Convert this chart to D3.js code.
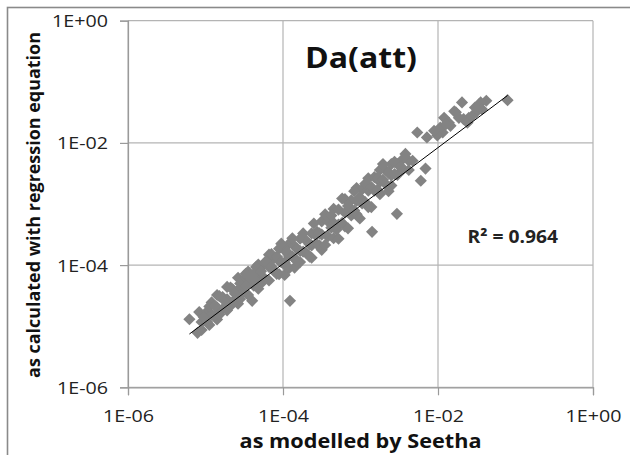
<!DOCTYPE html>
<html>
<head>
<meta charset="utf-8">
<script src="https://cdn.jsdelivr.net/npm/d3@7"></script>
<style>
  html, body { margin: 0; padding: 0; background: #fff; }
  svg { display: block; font-family: "Open Sans", "Liberation Sans", sans-serif; }
</style>
</head>
<body>
<svg id="chart" width="630" height="455"></svg>
<script>
// Da(att): values modelled by Seetha vs. values from the regression equation
const modelled = [
  6.2e-6, 8.3e-6, 7.9e-6, 4.0e-5, 1.23e-4,
  8.9e-6, 8.9e-6, 1.05e-5, 1.05e-5, 1.2e-5, 1.2e-5, 1.41e-5, 1.41e-5, 1.41e-5,
  1.66e-5, 1.66e-5, 1.9e-5, 1.9e-5, 1.9e-5, 2.24e-5, 2.24e-5, 2.63e-5, 2.63e-5, 2.63e-5,
  3.0e-5, 3.0e-5, 3.55e-5, 3.55e-5, 3.55e-5, 4.2e-5, 4.2e-5, 4.8e-5, 4.8e-5, 4.8e-5,
  5.6e-5, 5.6e-5, 6.6e-5, 6.6e-5, 6.6e-5, 7.6e-5, 7.6e-5, 8.9e-5, 8.9e-5, 8.9e-5,
  1.05e-4, 1.05e-4, 1.05e-4,
  1.2e-4, 1.2e-4, 1.2e-4, 1.41e-4, 1.41e-4, 1.41e-4, 1.66e-4, 1.66e-4, 1.66e-4,
  2.0e-4, 2.0e-4, 2.34e-4, 2.34e-4, 2.34e-4, 2.75e-4, 2.75e-4, 3.16e-4, 3.16e-4, 3.16e-4,
  3.8e-4, 3.8e-4, 4.5e-4, 4.5e-4, 4.5e-4, 5.2e-4, 5.2e-4, 5.2e-4, 6.3e-4, 6.3e-4, 6.3e-4,
  7.6e-4, 7.6e-4, 8.9e-4, 8.9e-4, 8.9e-4, 1.05e-3, 1.05e-3, 1.26e-3, 1.26e-3, 1.26e-3,
  1.51e-3, 1.51e-3, 1.78e-3, 1.78e-3, 1.78e-3, 2.1e-3, 2.1e-3, 2.5e-3, 2.5e-3, 2.5e-3,
  3.0e-3, 3.0e-3, 3.55e-3, 3.55e-3, 4.2e-3, 4.2e-3,
  2.95e-3, 1.41e-3, 6.0e-3, 6.9e-3, 2.63e-4,
  9.5e-6, 1.12e-5, 1.12e-5, 1.32e-5, 1.32e-5, 1.51e-5, 1.51e-5, 1.78e-5, 2.1e-5, 2.1e-5,
  2.4e-5, 2.8e-5, 2.8e-5, 3.3e-5, 3.3e-5, 3.8e-5, 4.5e-5, 4.5e-5, 5.2e-5, 5.2e-5,
  6.0e-5, 7.1e-5, 7.1e-5, 8.3e-5, 8.3e-5, 9.5e-5, 9.5e-5,
  1.12e-4, 1.12e-4, 1.32e-4, 1.32e-4, 1.51e-4, 1.51e-4, 1.82e-4, 1.82e-4, 2.2e-4, 2.2e-4,
  2.5e-4, 2.95e-4, 2.95e-4, 3.5e-4, 3.5e-4, 4.2e-4, 4.2e-4, 4.9e-4, 5.8e-4, 5.8e-4,
  6.9e-4, 6.9e-4, 8.3e-4, 8.3e-4, 9.8e-4, 9.8e-4, 1.15e-3, 1.15e-3, 1.38e-3, 1.38e-3,
  1.66e-3, 1.66e-3, 1.95e-3, 1.95e-3, 2.3e-3, 2.3e-3, 2.75e-3, 2.75e-3, 3.3e-3, 3.8e-3,
  4.7e-3,
  5.4e-3, 7.2e-3, 1.15e-2, 1.2e-2, 1.45e-2, 1.7e-2, 2.04e-2, 2.5e-2, 3.1e-2, 3.4e-2,
  4.2e-2, 7.9e-2, 1.62e-2, 2.14e-2, 3.55e-2, 1.07e-2, 1.38e-2, 1.86e-2, 2.4e-2, 2.75e-2,
  3.7e-2, 9.8e-3, 1.26e-2, 3.0e-2, 8.9e-3
];
const regression = [
  1.3e-5, 1.7e-5, 7.8e-6, 2.6e-5, 2.6e-5,
  1.17e-5, 8.7e-6, 1.74e-5, 1.17e-5, 2.45e-5, 1.55e-5, 3.24e-5, 2.04e-5, 1.29e-5,
  3.0e-5, 1.9e-5, 4.4e-5, 2.75e-5, 1.82e-5, 4.0e-5, 2.5e-5, 6.2e-5, 3.9e-5, 2.34e-5,
  5.6e-5, 3.55e-5, 7.8e-5, 4.9e-5, 3.24e-5, 7.2e-5, 4.6e-5, 1.02e-4, 6.8e-5, 4.1e-5,
  1.0e-4, 6.3e-5, 1.48e-4, 9.3e-5, 5.6e-5, 1.29e-4, 8.1e-5, 1.86e-4, 1.17e-4, 7.1e-5,
  1.74e-4, 1.1e-4, 6.9e-5,
  2.24e-4, 1.41e-4, 8.9e-5, 2.04e-4, 1.29e-4, 9.1e-5, 2.7e-4, 1.7e-4, 1.12e-4,
  2.5e-4, 1.58e-4, 3.3e-4, 2.1e-4, 1.32e-4, 3.5e-4, 2.2e-4, 5.2e-4, 3.16e-4, 1.78e-4,
  5.2e-4, 2.95e-4, 8.3e-4, 4.9e-4, 2.75e-4, 8.1e-4, 4.6e-4, 2.7e-4, 1.2e-3, 7.2e-4, 4.3e-4,
  1.15e-3, 6.5e-4, 1.82e-3, 1.12e-3, 6.8e-4, 1.74e-3, 1.02e-3, 2.63e-3, 1.66e-3, 8.9e-4,
  2.75e-3, 1.66e-3, 3.6e-3, 2.3e-3, 1.45e-3, 3.6e-3, 2.14e-3, 4.5e-3, 2.95e-3, 2.0e-3,
  4.5e-3, 3.0e-3, 5.5e-3, 3.7e-3, 5.1e-3, 3.6e-3,
  6.9e-4, 3.5e-4, 2.4e-3, 3.8e-3, 3.1e-4,
  1.41e-5, 1.05e-5, 2.1e-5, 2.14e-5, 1.51e-5, 3.1e-5, 1.55e-5, 2.57e-5, 4.3e-5, 2.14e-5,
  3.4e-5, 5.0e-5, 2.8e-5, 7.2e-5, 4.6e-5, 5.9e-5, 9.3e-5, 5.5e-5, 7.9e-5, 5.0e-5,
  1.15e-4, 9.5e-5, 1.51e-4, 1.38e-4, 7.2e-5, 2.24e-4, 1.12e-4,
  1.66e-4, 9.3e-5, 2.75e-4, 1.38e-4, 1.86e-4, 1.17e-4, 3.3e-4, 1.66e-4, 2.2e-4, 1.38e-4,
  4.8e-4, 3.3e-4, 2.1e-4, 6.8e-4, 2.14e-4, 4.1e-4, 6.5e-4, 3.8e-4, 1.23e-3, 4.9e-4,
  9.3e-4, 4.0e-4, 7.8e-4, 1.62e-3, 1.29e-3, 5.8e-4, 2.14e-3, 1.07e-3, 1.9e-3, 8.9e-4,
  2.7e-3, 1.7e-3, 4.5e-3, 2.5e-3, 3.24e-3, 1.62e-3, 4.9e-3, 3.1e-3, 4.1e-3, 6.6e-3,
  5.1e-3,
  1.48e-2, 1.23e-2, 1.48e-2, 2.57e-2, 1.9e-2, 3.16e-2, 4.6e-2, 2.57e-2, 3.16e-2, 4.3e-2,
  4.9e-2, 5.0e-2, 3.3e-2, 2.45e-2, 4.6e-2, 1.78e-2, 2.14e-2, 2.57e-2, 2.14e-2, 2.75e-2,
  3.55e-2, 1.32e-2, 2.0e-2, 3.8e-2, 1.58e-2
];

// power trendline y = coef * x^exponent
const trendCoef = 0.668;
const trendExp = 0.951;
const rSquaredLabel = "R² = 0.964";

const xTicks = [1e-6, 1e-4, 1e-2, 1];
const yTicks = [1e-6, 1e-4, 1e-2, 1];
const tickLabel = d => d3.format(".0e")(d).replace(/e([+-])(\d)$/, "E$10$2").replace("e", "E");

const chartTitle = "Da(att)";
const xTitle = "as modelled by Seetha";
const yTitle = "as calculated with regression equation";

const svg = d3.select("#chart");
const plot = { left: 128, right: 593, top: 20.7, bottom: 387.3 };

const x = d3.scaleLog().domain([1e-6, 1]).range([plot.left, plot.right]);
const y = d3.scaleLog().domain([1e-6, 1]).range([plot.bottom, plot.top]);

// horizontal stretch factor so a text element spans the given width
const stretchTo = (node, width) => width / node.getComputedTextLength();

// outer chart frame
svg.append("rect")
  .attr("x", 7.5).attr("y", 7.5).attr("width", 640).attr("height", 470)
  .attr("fill", "none").attr("stroke", "#8a8a8a").attr("stroke-width", 1.6);

// gridlines
const grid = svg.append("g").attr("stroke", "#b4b4b4").attr("stroke-width", 1.2);
grid.selectAll(".gx").data(xTicks).join("line")
  .attr("x1", d => x(d)).attr("x2", d => x(d))
  .attr("y1", plot.top).attr("y2", plot.bottom);
grid.selectAll(".gy").data(yTicks).join("line")
  .attr("x1", plot.left).attr("x2", plot.right)
  .attr("y1", d => y(d)).attr("y2", d => y(d));

// axes
const xAxis = d3.axisBottom(x).tickValues(xTicks).tickFormat(tickLabel).tickSize(8).tickPadding(15);
const yAxis = d3.axisLeft(y).tickValues(yTicks).tickFormat(tickLabel).tickSize(8).tickPadding(12);

const gx = svg.append("g").attr("transform", `translate(0,${plot.bottom})`).call(xAxis);
const gy = svg.append("g").attr("transform", `translate(${plot.left},0)`).call(yAxis);
[gx, gy].forEach(g => {
  g.select(".domain").attr("stroke", "#9a9a9a").attr("stroke-width", 1.2);
  g.selectAll(".tick line").attr("stroke", "#9a9a9a").attr("stroke-width", 1.2);
  g.selectAll(".tick text").attr("fill", "#222").attr("font-size", 16.5)
    .attr("font-family", "'Open Sans', sans-serif");
});
gy.selectAll(".tick text").attr("dy", "0.36em");

// widen tick labels, keeping each anchor in place
const tickStretch = stretchTo(gx.select(".tick text").node(), 51);
[gx, gy].forEach(g => g.selectAll(".tick text").each(function () {
  const t = d3.select(this);
  const x0 = +t.attr("x") || 0;
  t.attr("x", x0 / tickStretch).attr("transform", `scale(${tickStretch},1)`);
}));

// data points (diamonds)
const pts = modelled.map((m, i) => [m, regression[i]]);
svg.append("g").selectAll("path").data(pts).join("path")
  .attr("d", d3.symbol().type(d3.symbolSquare).size(74))
  .attr("transform", d => `translate(${x(d[0])},${y(d[1])}) rotate(45)`)
  .attr("fill", "#838383");

// trendline across the data's x range
const [xmin, xmax] = d3.extent(modelled);
const trendX = [xmin, xmax];
svg.append("path")
  .datum(trendX)
  .attr("d", d3.line().x(d => x(d)).y(d => y(trendCoef * Math.pow(d, trendExp))))
  .attr("stroke", "#000").attr("stroke-width", 1).attr("fill", "none");

// titles: placed at an anchor, then stretched horizontally to their widths
function label(text, ax, ay, opts) {
  const g = svg.append("g").attr("transform", `translate(${ax},${ay})${opts.rotate ? " rotate(-90)" : ""}`);
  const t = g.append("text")
    .attr("text-anchor", opts.anchor || "middle")
    .attr("font-weight", "bold").attr("font-size", opts.size)
    .attr("fill", opts.fill || "#111").text(text);
  t.attr("transform", `scale(${stretchTo(t.node(), opts.width)},1)`);
}

label(chartTitle, 361, 68, { size: 29, width: 112 });
label(rSquaredLabel, 467.5, 242.5, { size: 18, width: 90.5, anchor: "start", fill: "#222" });
label(xTitle, 360.5, 448, { size: 20, width: 242 });
label(yTitle, 40, 205, { size: 17, width: 346, rotate: true });
</script>
</body>
</html>
